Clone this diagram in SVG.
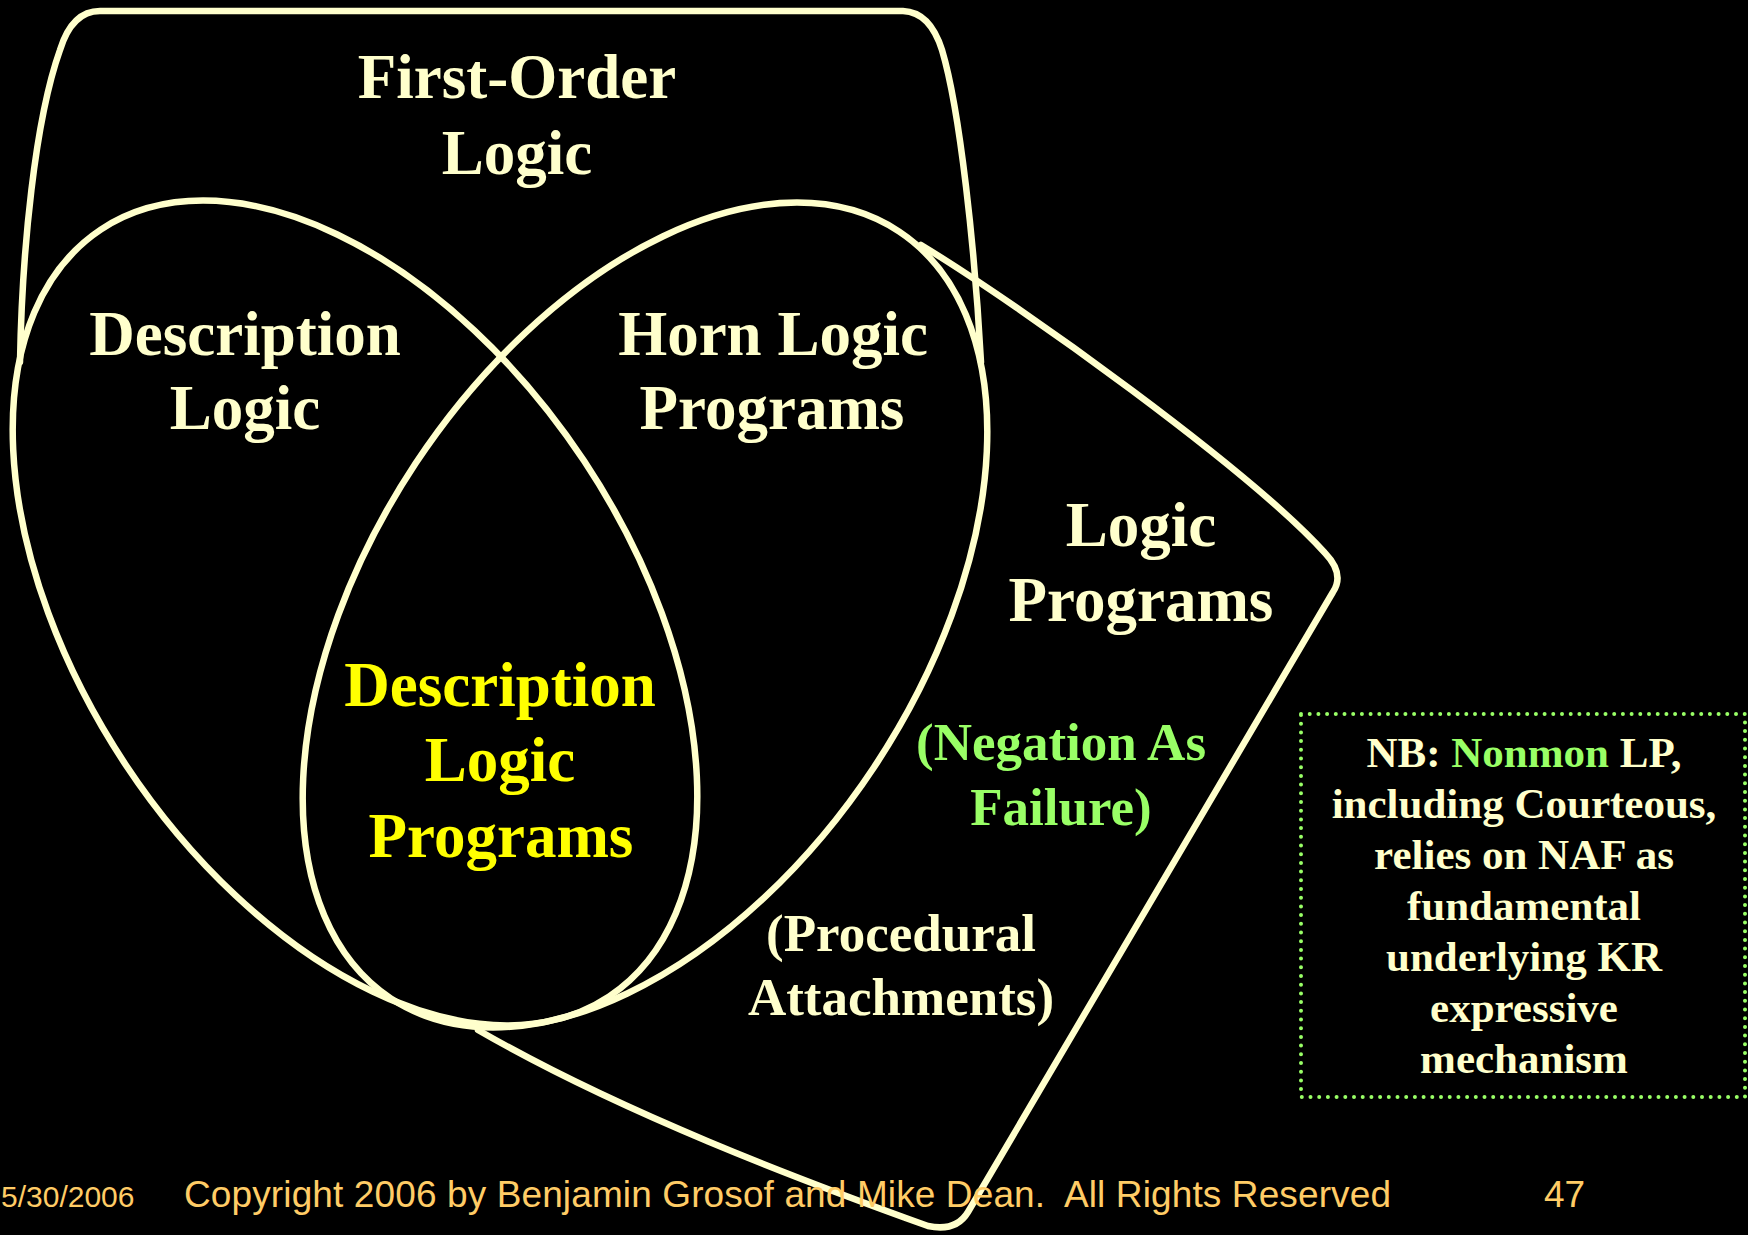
<svg xmlns="http://www.w3.org/2000/svg" width="1748" height="1235" viewBox="0 0 1748 1235">
<style>
.ln{fill:none;stroke:#FFFFCC;stroke-width:6.5;stroke-linejoin:round;stroke-linecap:round}
.big{font-family:"Liberation Serif","Times New Roman",serif;font-weight:bold;font-size:63px;text-anchor:middle;fill:#FFFFCC}
.dlp{fill:#FFFF00}
.mid{font-family:"Liberation Serif","Times New Roman",serif;font-weight:bold;font-size:53px;text-anchor:middle;fill:#FFFFCC}
.grn{fill:#99FF66}
.nb{font-family:"Liberation Serif","Times New Roman",serif;font-weight:bold;font-size:43px;text-anchor:middle;fill:#FFFFCC}
.ft{font-family:"Liberation Sans",Arial,sans-serif;font-size:37px;fill:#FFCC66;white-space:pre}
</style>
<rect width="1748" height="1235" fill="#000000"/>
<g id="connectors"></g>
<g id="fol">
<path class="ln" d="M 20,362 C 22,250 35,120 60,50 Q 72,11 100,11 L 903,11 Q 930,12 942,50 C 960,110 975,250 981,362"/>
<text class="big" x="517" y="98">First-Order</text>
<text class="big" x="517" y="174">Logic</text>
</g>
<g id="lp">
<path class="ln" d="M 921,245 C 1020,305 1250,470 1325,553 Q 1345,574 1333,592 L 968,1212 Q 956,1232 928,1226 C 800,1180 620,1112 478,1030"/>
<text class="big" x="1141" y="546">Logic</text>
<text class="big" x="1141" y="621">Programs</text>
<text class="mid grn" x="1061" y="760">(Negation As</text>
<text class="mid grn" x="1061" y="825">Failure)</text>
<text class="mid" x="901" y="951">(Procedural</text>
<text class="mid" x="901" y="1015">Attachments)</text>
</g>
<g id="dl">
<ellipse class="ln" cx="355" cy="613" rx="460" ry="275" transform="rotate(56.45 355 613)"/>
<text class="big" x="245" y="355">Description</text>
<text class="big" x="245" y="429">Logic</text>
</g>
<g id="hlp">
<ellipse class="ln" cx="645" cy="615" rx="460" ry="275" transform="rotate(-56.45 645 615)"/>
<text class="big" x="773" y="355">Horn Logic</text>
<text class="big" x="772" y="429">Programs</text>
</g>
<g id="dlp">
<text class="big dlp" x="500" y="706">Description</text>
<text class="big dlp" x="500" y="781">Logic</text>
<text class="big dlp" x="501" y="857">Programs</text>
</g>
<g id="nb">
<rect x="1301" y="714" width="444" height="383" fill="none" stroke="#99FF66" stroke-width="4" stroke-linecap="round" stroke-dasharray="0 8.7"/>
<text class="nb" x="1524" y="767">NB: <tspan class="grn">Nonmon</tspan> LP,</text>
<text class="nb" x="1524" y="818">including Courteous,</text>
<text class="nb" x="1524" y="869">relies on NAF as</text>
<text class="nb" x="1524" y="920">fundamental</text>
<text class="nb" x="1524" y="971">underlying KR</text>
<text class="nb" x="1524" y="1022">expressive</text>
<text class="nb" x="1524" y="1073">mechanism</text>
</g>
<g id="footer">
<text class="ft" x="1" y="1207" style="font-size:30px">5/30/2006</text>
<text class="ft" x="184" y="1207" xml:space="preserve" textLength="1207" lengthAdjust="spacing">Copyright 2006 by Benjamin Grosof and Mike Dean.  All Rights Reserved</text>
<text class="ft" x="1544" y="1207">47</text>
</g>
</svg>
